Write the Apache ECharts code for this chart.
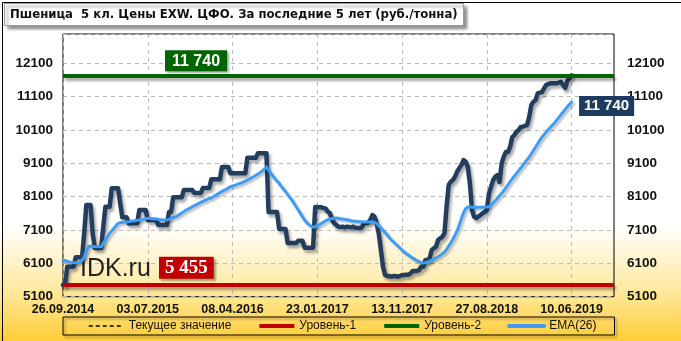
<!DOCTYPE html>
<html>
<head>
<meta charset="utf-8">
<script src="https://cdn.jsdelivr.net/npm/echarts@6/dist/echarts.min.js"></script>
<style>
html,body{margin:0;padding:0;}
#chart{width:681px;height:341px;background:linear-gradient(to bottom,#ffffff 0%,#ffffff 66%,#ffe9a0 85%,#ffcd38 100%);}
</style>
</head>
<body>
<div id="chart"></div>
<script>
// ---- data ----
const categoryCount = 261; // observation slots on the axis
const tickStep = 40;       // one labelled tick every 40 observations
const tickLabels = ['26.09.2014','03.07.2015','08.04.2016','23.01.2017','13.11.2017','27.08.2018','10.06.2019'];
const price = [
5450,5460,6000,6000,6000,6000,6280,6280,6280,6280,
7000,7850,7850,7850,7000,6560,6560,6560,6560,7200,
7800,7800,7800,8350,8350,8350,8350,7900,7480,7480,
7480,7300,7300,7300,7300,7300,7700,7700,7700,7700,
7400,7400,7400,7400,7400,7250,7250,7250,7250,7250,
7640,7640,8080,8080,8080,8080,8080,8300,8300,8300,
8300,8300,8210,8210,8210,8210,8360,8360,8360,8360,
8620,8620,8620,8620,8620,8990,8990,8990,8990,8800,
8800,8800,8800,8800,8800,8800,8800,9270,9270,9270,
9270,9270,9400,9400,9400,9400,9400,7640,7640,7640,
7640,7640,7130,7130,7130,7130,6710,6710,6710,6710,
6710,6780,6780,6780,6570,6570,6570,6570,6570,7790,
7790,7780,7780,7760,7740,7650,7600,7400,7300,7250,
7200,7190,7200,7180,7200,7190,7180,7200,7170,7160,
7160,7180,7300,7300,7320,7400,7550,7500,7300,7000,
6500,6000,5750,5720,5720,5700,5720,5720,5700,5720,
5750,5750,5760,5760,5800,5870,5870,5870,5900,6000,
6000,6200,6200,6250,6500,6550,6600,6800,6850,6900,
7000,7800,8450,8550,8600,8700,8850,8960,9050,9200,
9150,9000,8500,7700,7500,7460,7500,7550,7600,7640,
7700,8200,8400,8600,8700,8750,8540,9100,9300,9440,
9440,9600,9890,9950,10050,10100,10190,10200,10230,10250,
10500,10850,10950,11000,11200,11220,11240,11350,11450,11480,
11500,11500,11500,11500,11520,11540,11450,11360,11580,11650,
11740
];
const ema26 = [
6200,6180,6160,6140,6130,6120,6120,6120,6130,6180,
6300,6450,6600,6620,6610,6600,6600,6600,6600,6700,
6800,6900,7000,7080,7150,7230,7300,7320,7330,7340,
7340,7350,7360,7370,7380,7390,7400,7410,7420,7440,
7450,7450,7440,7430,7430,7420,7410,7400,7400,7400,
7420,7450,7480,7490,7530,7570,7610,7650,7700,7730,
7760,7800,7830,7860,7900,7930,7960,7990,8020,8040,
8060,8100,8140,8180,8220,8260,8290,8320,8360,8400,
8420,8440,8460,8490,8510,8540,8560,8600,8630,8670,
8700,8740,8780,8820,8870,8930,8990,8900,8800,8720,
8640,8570,8500,8410,8330,8250,8170,8080,8000,7900,
7800,7700,7600,7500,7400,7320,7260,7220,7190,7200,
7230,7260,7300,7340,7380,7410,7430,7440,7450,7460,
7450,7440,7430,7420,7410,7400,7380,7370,7360,7360,
7350,7350,7340,7340,7340,7340,7340,7330,7300,7230,
7160,7090,7020,6950,6870,6800,6740,6680,6620,6560,
6500,6440,6390,6350,6300,6260,6220,6180,6150,6120,
6110,6120,6140,6170,6200,6230,6260,6300,6340,6390,
6440,6520,6620,6720,6830,6950,7080,7250,7450,7620,
7740,7790,7790,7780,7780,7780,7780,7780,7780,7790,
7790,7800,7850,7910,7980,8050,8130,8200,8280,8370,
8460,8550,8640,8720,8800,8880,8960,9050,9130,9210,
9290,9390,9490,9590,9690,9790,9890,9960,10040,10110,
10180,10250,10320,10400,10480,10560,10640,10720,10800,10870,
10940
];
const level1 = 5455;
const level2 = 11740;

const categories = [];
for (let i = 0; i < categoryCount; i++) categories.push(String(i));
const fmt = v => String(v).replace(/\B(?=(\d{3})+(?!\d))/g, ' ');
const lastIdx = price.length - 1;

const chart = echarts.init(document.getElementById('chart'), null, {renderer:'canvas'});
const showTick = (idx) => idx % tickStep === 0 && idx / tickStep < tickLabels.length;
const shadow = {shadowColor:'rgba(0,0,0,0.35)', shadowBlur:3, shadowOffsetX:2, shadowOffsetY:3};
const yLab = {fontFamily:'Liberation Sans', fontWeight:'bold', fontSize:13.5, color:'#111', formatter:v=>String(v)};

chart.setOption({
  animation:false,
  backgroundColor:'transparent',
  title:{
    text:'Пшеница  5 кл. Цены EXW. ЦФО. За последние 5 лет (руб./тонна)',
    left:4, top:3,
    padding:[5,6,5,6],
    backgroundColor:'#fff', borderColor:'#999', borderWidth:1,
    shadowColor:'rgba(0,0,0,0.45)', shadowBlur:3, shadowOffsetX:3, shadowOffsetY:3,
    textStyle:{fontFamily:'"DejaVu Sans Condensed", "Liberation Sans"', fontWeight:'bold', fontSize:13, color:'#111'}
  },
  grid:{left:63, right:67, top:34, bottom:44.3, show:true, borderColor:'#000', borderWidth:1, backgroundColor:'transparent'},
  legend:{
    data:[
      {name:'Текущее значение', lineStyle:{width:1.5, type:[4,3], color:'#000'}},
      {name:'Уровень-1', lineStyle:{width:4, color:'#c00000'}},
      {name:'Уровень-2', lineStyle:{width:4, color:'#006400'}},
      {name:'EMA(26)', lineStyle:{width:4, color:'#3d9cf5'}}
    ],
    left:63, top:317,
    padding:[3,18,3,25],
    itemGap:26, itemWidth:35, itemHeight:12,
    itemStyle:{opacity:0},
    backgroundColor:'transparent', borderColor:'#000', borderWidth:1,
    shadowColor:'rgba(0,0,0,0.35)', shadowBlur:2, shadowOffsetX:2, shadowOffsetY:2,
    textStyle:{fontFamily:'Liberation Sans', fontSize:12, color:'#111'}
  },
  xAxis:{
    type:'category', data:categories, boundaryGap:false,
    axisLine:{show:false}, axisTick:{show:false},
    axisLabel:{interval:showTick, formatter:(v, idx)=>tickLabels[Math.round(idx / tickStep)] || '',
      fontFamily:'Liberation Sans', fontWeight:'bold', fontSize:12.5, color:'#111', margin:6, hideOverlap:false},
    splitLine:{show:true, interval:showTick, lineStyle:{color:'#bbb', type:[4,4], width:1}}
  },
  yAxis:[
    {type:'value', min:5100, max:12980, interval:1000, position:'left',
     axisLine:{show:false}, axisTick:{show:false},
     axisLabel:{...yLab, margin:10, showMaxLabel:false},
     splitLine:{show:true, lineStyle:{color:'#bbb', type:[4,4], width:1}}},
    {type:'value', min:5100, max:12980, interval:1000, position:'right',
     axisLine:{show:false}, axisTick:{show:false},
     axisLabel:{...yLab, margin:13, showMaxLabel:false},
     splitLine:{show:false}}
  ],
  series:[
    {name:'Текущее значение', type:'line', data:[], symbol:'none',
     lineStyle:{color:'#000', width:1, type:[4,3]}, itemStyle:{color:'#000'}},
    {name:'Уровень-1', type:'line', data:[], symbol:'none',
     lineStyle:{color:'#c00000', width:4}, itemStyle:{color:'#c00000'},
     markLine:{silent:true, symbol:'none', animation:false,
       lineStyle:{color:'#c00000', width:4, type:'solid', ...shadow},
       label:{show:true, position:'insideStartTop', formatter:()=>fmt(level1), distance:6, offset:[90,0],
         backgroundColor:'#c00000', color:'#fff', fontFamily:'Liberation Serif', fontWeight:'bold', fontSize:19,
         padding:[2,6,1,6], shadowColor:'rgba(0,0,0,0.35)', shadowBlur:2, shadowOffsetX:2, shadowOffsetY:2},
       data:[{yAxis:level1}]}},
    {name:'Уровень-2', type:'line', data:[], symbol:'none',
     lineStyle:{color:'#006400', width:4}, itemStyle:{color:'#006400'},
     markLine:{silent:true, symbol:'none', animation:false,
       lineStyle:{color:'#006400', width:4, type:'solid', ...shadow},
       label:{show:true, position:'insideStartTop', formatter:()=>fmt(level2), distance:4, offset:[98,0],
         backgroundColor:'#006400', color:'#fff', fontFamily:'Liberation Sans', fontWeight:'bold', fontSize:16,
         padding:[3,7,2,7], shadowColor:'rgba(0,0,0,0.35)', shadowBlur:2, shadowOffsetX:2, shadowOffsetY:2},
       data:[{yAxis:level2}]}},
    {name:'Цена', type:'line', data:price, symbol:'none', z:3,
     lineStyle:{color:'#233d5e', width:4.5, join:'round', cap:'round', ...shadow}},
    {name:'EMA(26)', type:'line', data:ema26, symbol:'none', z:4,
     lineStyle:{color:'#3d9cf5', width:3, join:'round', cap:'round', shadowColor:'rgba(0,0,0,0.25)', shadowBlur:2, shadowOffsetX:2, shadowOffsetY:2},
     itemStyle:{color:'#3d9cf5'},
     markPoint:{symbol:'rect', symbolSize:0, silent:true, animation:false,
       label:{show:true, formatter:p=>fmt(p.value), offset:[35,4],
         backgroundColor:'#1f3a5f', color:'#fff', fontFamily:'Liberation Sans', fontWeight:'bold', fontSize:15,
         padding:[3,5,2,5]},
       data:[{coord:[lastIdx, ema26[lastIdx]], value:price[lastIdx]}]}}
  ],
  graphic:[
    {type:'text', left:80, top:257, z:2, silent:true,
     style:{text:'IDK.ru', font:'25px "Liberation Sans"', fill:'#222'}},
    {type:'rect', left:0, top:0, z:100, silent:true,
     shape:{x:0, y:0, width:680, height:340}, style:{fill:'none', stroke:'#000', lineWidth:1}}
  ]
});
</script>
</body>
</html>
